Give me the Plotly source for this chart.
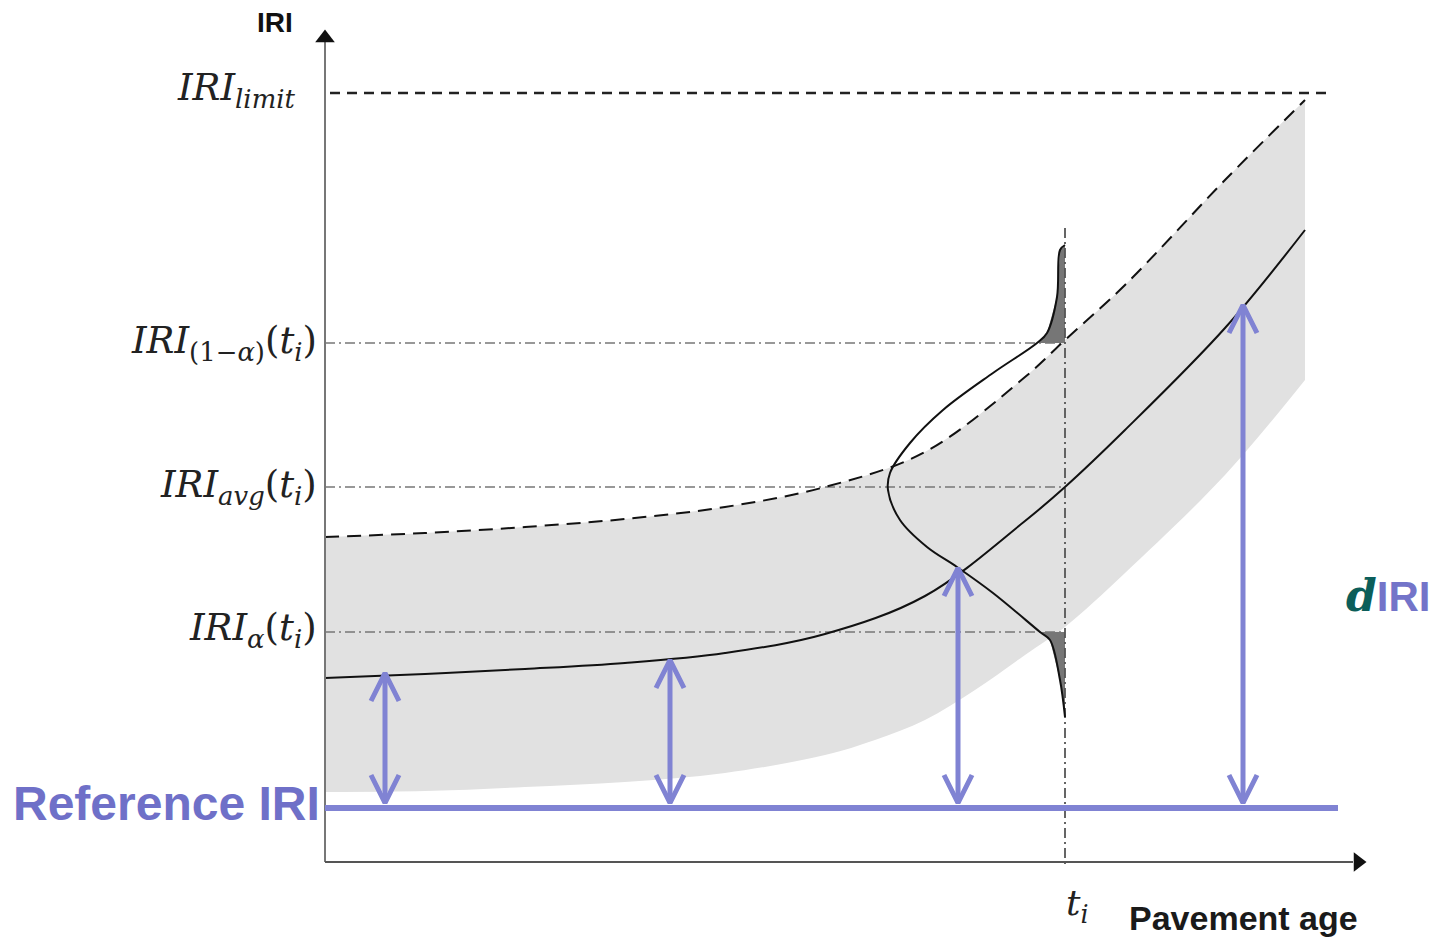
import plotly.graph_objects as go

# ---------------- data (schematic units: age in "years", IRI in "m/km") -------------
age = [0.0, 1.0, 2.0, 3.0, 4.0, 5.0, 6.0, 7.0, 7.4, 8.0, 9.0, 9.8]
iri_mean = [1.84, 1.88, 1.93, 1.99, 2.09, 2.28, 2.66, 3.41, 3.75, 4.32, 5.34, 6.32]
iri_upper = [3.25, 3.29, 3.35, 3.43, 3.55, 3.75, 4.10, 4.85, 5.22, 5.77, 6.82, 7.62]

band_age = [0.0, 1.0, 2.0, 3.0, 4.0, 5.0, 5.5, 6.0, 6.5, 7.0, 7.4, 8.0, 9.0, 9.8]
iri_lower = [0.70, 0.71, 0.75, 0.80, 0.89, 1.07, 1.22, 1.42, 1.72, 2.07, 2.35, 2.89, 3.87, 4.82]

t_i = 7.4
iri_limit = 7.69
reference_iri = 0.54
quantile_hi = 5.19   # IRI_(1-alpha)(t_i)
quantile_avg = 3.75  # IRI_avg(t_i)
quantile_lo = 2.30   # IRI_alpha(t_i)

# distribution of IRI at t_i (IRI level, horizontal width of density)
pdf_iri = [6.17, 6.12, 5.65, 5.29, 5.19, 4.89, 4.52, 4.19, 3.89, 3.72, 3.42, 3.15, 2.95, 2.69, 2.30, 2.22, 1.82, 1.45]
pdf_width = [0.0, 0.05, 0.08, 0.18, 0.28, 0.72, 1.22, 1.55, 1.75, 1.77, 1.65, 1.38, 1.08, 0.72, 0.25, 0.15, 0.05, 0.0]

# dIRI arrows
arrow_age = [0.6, 3.45, 6.33, 9.18]
arrow_top = [1.89, 2.02, 2.94, 5.57]

# ---------------- styles --------------------------------------------------------------
BLUE = "#8083d3"
BAND = "#e1e1e1"
SERIF = "DejaVu Serif"
SANS = "Liberation Sans"

fig = go.Figure()

# grey band (lower boundary then upper with fill)
fig.add_trace(go.Scatter(x=band_age, y=iri_lower, mode="lines", line=dict(width=0, shape="spline"),
                         hoverinfo="skip", showlegend=False))
fig.add_trace(go.Scatter(x=age, y=iri_upper, mode="lines", line=dict(width=0, shape="spline"),
                         fill="tonexty", fillcolor=BAND, hoverinfo="skip", showlegend=False))

# horizontal dash-dot quantile lines
for q in [quantile_hi, quantile_avg, quantile_lo]:
    fig.add_trace(go.Scatter(x=[0, t_i], y=[q, q], mode="lines",
                             line=dict(color="#777777", width=1.6, dash="10px,4px,2px,4px"),
                             hoverinfo="skip", showlegend=False))

# shaded tails
up_x = [t_i - w for v, w in zip(pdf_iri, pdf_width) if v >= quantile_hi]
up_y = [v for v in pdf_iri if v >= quantile_hi]
fig.add_trace(go.Scatter(x=up_x + [t_i, t_i], y=up_y + [quantile_hi, pdf_iri[0]], mode="lines",
                         fill="toself", fillcolor="#767676", line=dict(width=0),
                         hoverinfo="skip", showlegend=False))
lo_x = [t_i - w for v, w in zip(pdf_iri, pdf_width) if v <= quantile_lo]
lo_y = [v for v in pdf_iri if v <= quantile_lo]
fig.add_trace(go.Scatter(x=lo_x + [t_i, t_i], y=lo_y + [pdf_iri[-1], quantile_lo], mode="lines",
                         fill="toself", fillcolor="#767676", line=dict(width=0),
                         hoverinfo="skip", showlegend=False))

# vertical t_i line
fig.add_trace(go.Scatter(x=[t_i, t_i], y=[6.34, -0.05], mode="lines",
                         line=dict(color="#555555", width=1.8, dash="10px,4px,2px,4px"),
                         hoverinfo="skip", showlegend=False))

# distribution curve
fig.add_trace(go.Scatter(x=[t_i - w for w in pdf_width], y=pdf_iri, mode="lines",
                         line=dict(color="#111111", width=2, shape="spline"),
                         hoverinfo="skip", showlegend=False))

# mean and upper curves
fig.add_trace(go.Scatter(x=age, y=iri_mean, mode="lines",
                         line=dict(color="#111111", width=2, shape="spline"),
                         hoverinfo="skip", showlegend=False))
fig.add_trace(go.Scatter(x=age, y=iri_upper, mode="lines",
                         line=dict(color="#111111", width=2, shape="spline", dash="14px,8px"),
                         hoverinfo="skip", showlegend=False))

# IRI limit line
fig.add_trace(go.Scatter(x=[0.05, 10.02], y=[iri_limit, iri_limit], mode="lines",
                         line=dict(color="#222222", width=2.5, dash="10px,7px"),
                         hoverinfo="skip", showlegend=False))

# axes
fig.add_trace(go.Scatter(x=[0, 0], y=[0, 8.2], mode="lines", line=dict(color="#777777", width=2),
                         hoverinfo="skip", showlegend=False))
fig.add_trace(go.Scatter(x=[0, 10.28], y=[0, 0], mode="lines", line=dict(color="#555555", width=2),
                         hoverinfo="skip", showlegend=False))
fig.add_trace(go.Scatter(x=[0], y=[8.24], mode="markers",
                         marker=dict(symbol="triangle-up", size=17, color="#111111"),
                         hoverinfo="skip", showlegend=False))
fig.add_trace(go.Scatter(x=[10.33], y=[0], mode="markers",
                         marker=dict(symbol="triangle-right", size=17, color="#111111"),
                         hoverinfo="skip", showlegend=False))

# reference IRI line
fig.add_trace(go.Scatter(x=[0, 10.13], y=[reference_iri, reference_iri], mode="lines",
                         line=dict(color=BLUE, width=6), hoverinfo="skip", showlegend=False))

# double-headed arrows
hw, hh = 0.14, 0.28
bottom = reference_iri + 0.05
sx, sy, cx, cy = [], [], [], []
for a, top in zip(arrow_age, arrow_top):
    sx += [a, a, None]
    sy += [top, bottom, None]
    cx += [a - hw, a, a + hw, None, a - hw, a, a + hw, None]
    cy += [top - hh, top, top - hh, None, bottom + hh, bottom, bottom + hh, None]
fig.add_trace(go.Scatter(x=sx, y=sy, mode="lines", line=dict(color=BLUE, width=5),
                         hoverinfo="skip", showlegend=False))
fig.add_trace(go.Scatter(x=cx, y=cy, mode="lines", line=dict(color=BLUE, width=5),
                         hoverinfo="skip", showlegend=False))

# ---------------- text --------------------------------------------------------------------
def ann(x, y, text, size, family, color="#111111", xanchor="center", yanchor="middle"):
    fig.add_annotation(x=x, y=y, xref="x", yref="y", text=text, showarrow=False,
                       font=dict(size=size, family=family, color=color),
                       xanchor=xanchor, yanchor=yanchor)

ann(-0.50, 8.40, "<b>IRI</b>", 28, SANS, "#111111")
ann(-0.28, iri_limit + 0.03, "<i>IRI</i><sub><i>limit</i></sub>", 37, SERIF, "#222222", xanchor="right")
ann(-0.06, quantile_hi, "<i>IRI</i><sub>(1−<i>α</i>)</sub>(<i>t</i><sub><i>i</i></sub>)", 37, SERIF, "#222222", xanchor="right")
ann(-0.06, quantile_avg, "<i>IRI</i><sub><i>avg</i></sub>(<i>t</i><sub><i>i</i></sub>)", 37, SERIF, "#222222", xanchor="right")
ann(-0.06, quantile_lo + 0.02, "<i>IRI</i><sub><i>α</i></sub>(<i>t</i><sub><i>i</i></sub>)", 37, SERIF, "#222222", xanchor="right")
ann(t_i + 0.12, -0.43, "<i>t</i><sub><i>i</i></sub>", 36, SERIF, "#222222")
ann(8.02, -0.56, "<b>Pavement age</b>", 34, SANS, "#1a1a1a", xanchor="left")
ann(-3.14, reference_iri + 0.05, "<b>Reference IRI</b>", 48, SANS, "#6f70c8", xanchor="left")
ann(10.19, 2.67, '<span style="font-family:DejaVu Serif;color:#0b5e5a;font-size:44px"><b><i>d</i></b></span><b>IRI</b>',
    42, SANS, "#7374c9", xanchor="left")

fig.update_layout(
    width=1435, height=940, autosize=False,
    margin=dict(l=0, r=0, t=0, b=0),
    paper_bgcolor="white", plot_bgcolor="white",
    xaxis=dict(range=[-3.25, 11.10], visible=False, fixedrange=True),
    yaxis=dict(range=[-0.78, 8.62], visible=False, fixedrange=True),
    showlegend=False,
)

fig.write_html("out.html", config={"displayModeBar": False})
